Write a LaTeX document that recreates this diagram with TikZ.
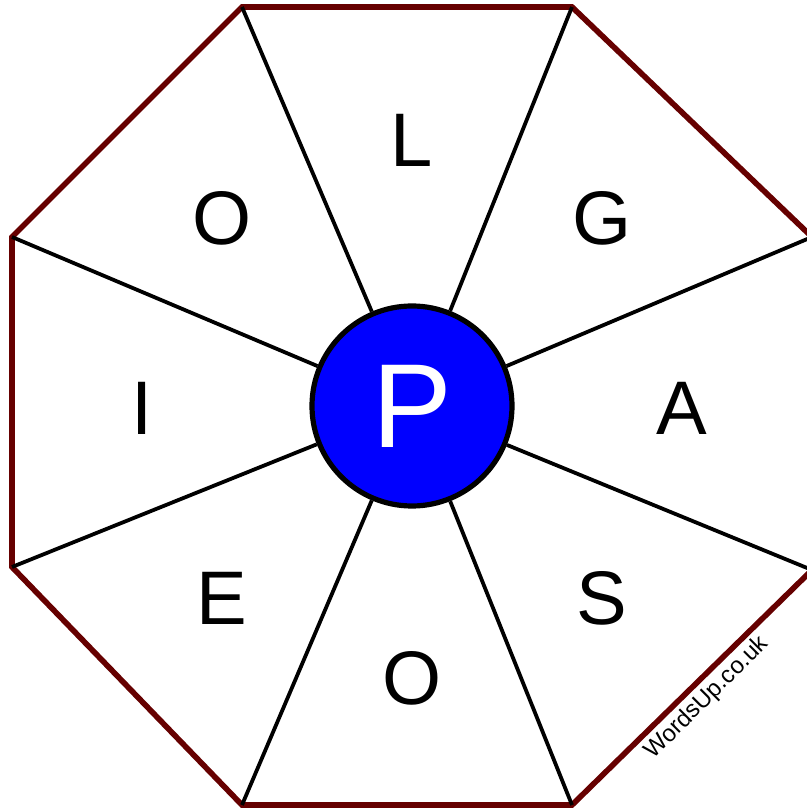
\documentclass[tikz,border=0pt]{standalone}
\usepackage{fontspec}
\setmainfont{Liberation Sans}
\definecolor{crim}{HTML}{660000}
\definecolor{cblue}{HTML}{0000FF}
\tikzset{
  every picture/.style={x=0.025cm, y=0.025cm},
  rim/.style={draw=crim, line width=4pt, line join=miter},
  spoke/.style={draw=black, line width=2.7pt},
  hub/.style={circle, draw=black, fill=cblue, line width=3.7pt, minimum size=200*0.025cm, inner sep=0pt, text=white, font=\fontsize{85}{85}\selectfont},
  letter/.style={font=\fontsize{54}{54}\selectfont},
  stamp/.style={font=\fontsize{17}{17}\selectfont, rotate=45},
}

\begin{document}
\begin{tikzpicture}
  \useasboundingbox (0,0) rectangle (807,810);
  \clip (0,0) rectangle (807,810);
  % octagon corners
  \coordinate (v0) at (812,573);
  \coordinate (v1) at (572,803);
  \coordinate (v2) at (242,803);
  \coordinate (v3) at (12,573);
  \coordinate (v4) at (12,243);
  \coordinate (v5) at (242,5);
  \coordinate (v6) at (572,5);
  \coordinate (v7) at (812,240);
  \draw[rim] (v0) -- (v1) -- (v2) -- (v3) -- (v4) -- (v5) -- (v6) -- (v7) -- cycle;
  \node[hub] (p) at (412,404) {P};
  \foreach \i in {0,...,7}
    \draw[spoke] (v\i) -- (p);
  % sector letters
  \node[letter] (l1) at (412,670) {L};
  \node[letter] (l2) at (602,592) {G};
  \node[letter] (l3) at (682,402) {A};
  \node[letter] (l4) at (602,212) {S};
  \node[letter] (l5) at (412,132) {O};
  \node[letter] (l6) at (222,212) {E};
  \node[letter] (l7) at (142,402) {I};
  \node[letter] (l8) at (222,592) {O};
  \node[stamp] (w) at (707,112) {WordsUp.co.uk};
\end{tikzpicture}
\end{document}
